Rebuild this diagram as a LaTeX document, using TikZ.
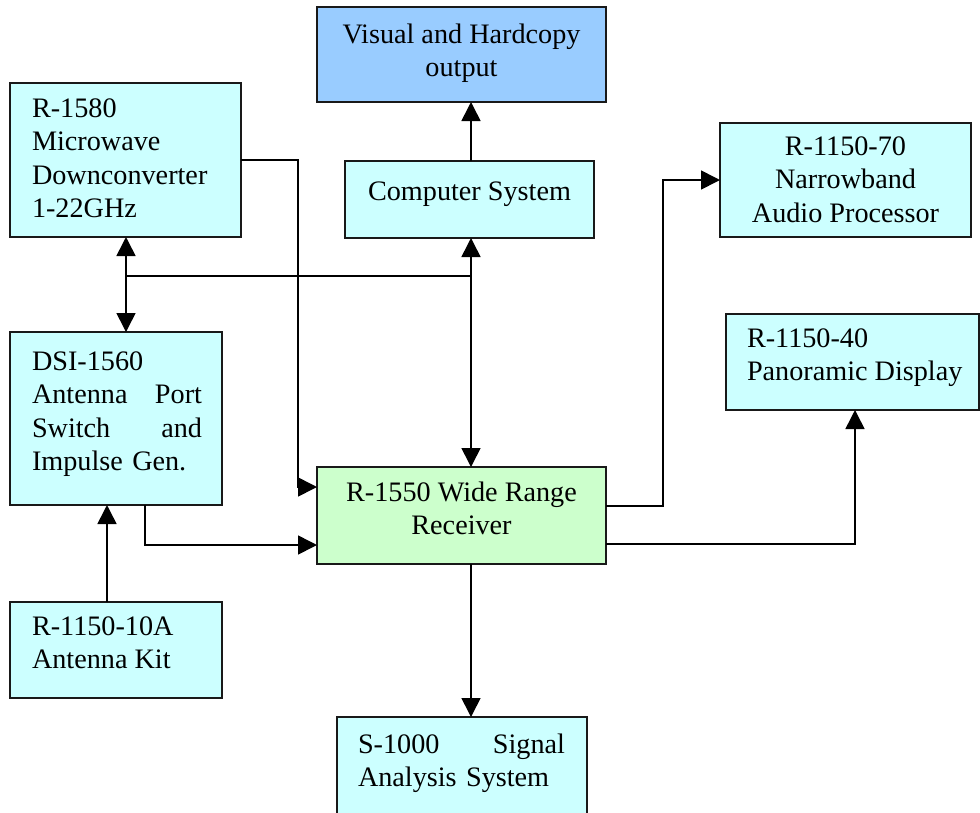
\documentclass[tikz,border=0pt]{standalone}
\usepackage{fontspec}
\setmainfont{Liberation Serif}
\usetikzlibrary{arrows.meta,calc}
\definecolor{cyanbox}{HTML}{CCFFFF}
\definecolor{bluebox}{HTML}{99CCFF}
\definecolor{greenbox}{HTML}{CCFFCC}
\tikzset{
  box/.style={draw=black!90, line width=1.6pt, fill=cyanbox, inner sep=0pt, outer sep=0pt, anchor=north west},
  txt/.style={inner sep=0pt, outer sep=0pt, font=\fontsize{28.2pt}{33.5pt}\selectfont, execute at begin node=\strut},
  ltxt/.style={txt, anchor=north west, align=left},
  ctxt/.style={txt, anchor=north, align=center},
  wire/.style={line width=1.6pt, black},
  arr/.style={wire, -{Triangle[length=19pt,width=19pt]}},
  dbl/.style={wire, {Triangle[length=19pt,width=19pt]}-{Triangle[length=19pt,width=19pt]}}
}
\begin{document}
\begin{tikzpicture}[x=1pt,y=-1pt]
\useasboundingbox (0,0) rectangle (980,812);
% boxes
\node[box, fill=bluebox, minimum width=289pt, minimum height=95pt] (vis) at (317,7) {};
\node[box, minimum width=249pt, minimum height=77pt] (comp) at (345,161) {};
\node[box, minimum width=231pt, minimum height=154pt] (r1580) at (10,83) {};
\node[box, minimum width=251pt, minimum height=114pt] (r70) at (720,123) {};
\node[box, minimum width=212pt, minimum height=173pt] (dsi) at (10,332) {};
\node[box, minimum width=253pt, minimum height=96pt] (r40) at (726,314) {};
\node[box, fill=greenbox, minimum width=289pt, minimum height=97pt] (r1550) at (317,467) {};
\node[box, minimum width=212pt, minimum height=96pt] (kit) at (10,602) {};
\node[box, minimum width=250pt, minimum height=120pt] (s1000) at (337,717) {};
% texts
\node[ctxt] (visT) at (461.5,23.55) {Visual and Hardcopy\\output};
\node[ctxt] (compT) at (469.5,176.55) {Computer System};
\node[ltxt] (r1580T) at (32,98.55) {R-1580\\Microwave\\Downconverter\\1-22GHz};
\node[ctxt] (r70T) at (845.5,136.55) {R-1150-70\\Narrowband\\Audio Processor};
\node[ltxt, text width=170pt] (dsiT) at (32,346.55) {DSI-1560\\Antenna\hfill Port\\Switch\hfill and\\Impulse Gen.};
\node[ltxt] (r40T) at (747,328.55) {R-1150-40\\Panoramic Display};
\node[ctxt] (r1550T) at (461.5,481.55) {R-1550 Wide Range\\Receiver};
\node[ltxt] (kitT) at (32,616.55) {R-1150-10A\\Antenna Kit};
\node[ltxt, text width=207pt] (s1000T) at (358,729.55) {S-1000\hfill Signal\\Analysis System};
% routing coordinates
\coordinate (xc) at (471,0);
\coordinate (xl) at (126,0);
\coordinate (ya) at (0,160);
\coordinate (xj) at (298,0);
\coordinate (yb) at (0,487);
\coordinate (yc) at (0,545);
\coordinate (xd) at (145,0);
\coordinate (xk) at (107,0);
\coordinate (ye) at (0,506);
\coordinate (yf) at (0,544);
\coordinate (xg) at (663,0);
\coordinate (yg) at (0,180);
\coordinate (xh) at (855,0);
\coordinate (yh) at (0,276);
% connectors
\draw[arr] (xc |- comp.north) -- (xc |- vis.south);
\draw[arr] (r1580.east |- ya) -| (xj |- yb) -- (r1550.west |- yb);
\draw[dbl] (xl |- r1580.south) -- (xl |- dsi.north);
\draw[dbl] (xc |- comp.south) -- (xc |- r1550.north);
\draw[wire] (xl |- yh) -- (xc |- yh);
\draw[arr] (xd |- dsi.south) |- (r1550.west |- yc);
\draw[arr] (xk |- kit.north) -- (xk |- dsi.south);
\draw[arr] (r1550.east |- ye) -| (xg |- yg) -- (r70.west |- yg);
\draw[arr] (r1550.east |- yf) -| (xh |- r40.south);
\draw[arr] (xc |- r1550.south) -- (xc |- s1000.north);
\end{tikzpicture}
\end{document}
